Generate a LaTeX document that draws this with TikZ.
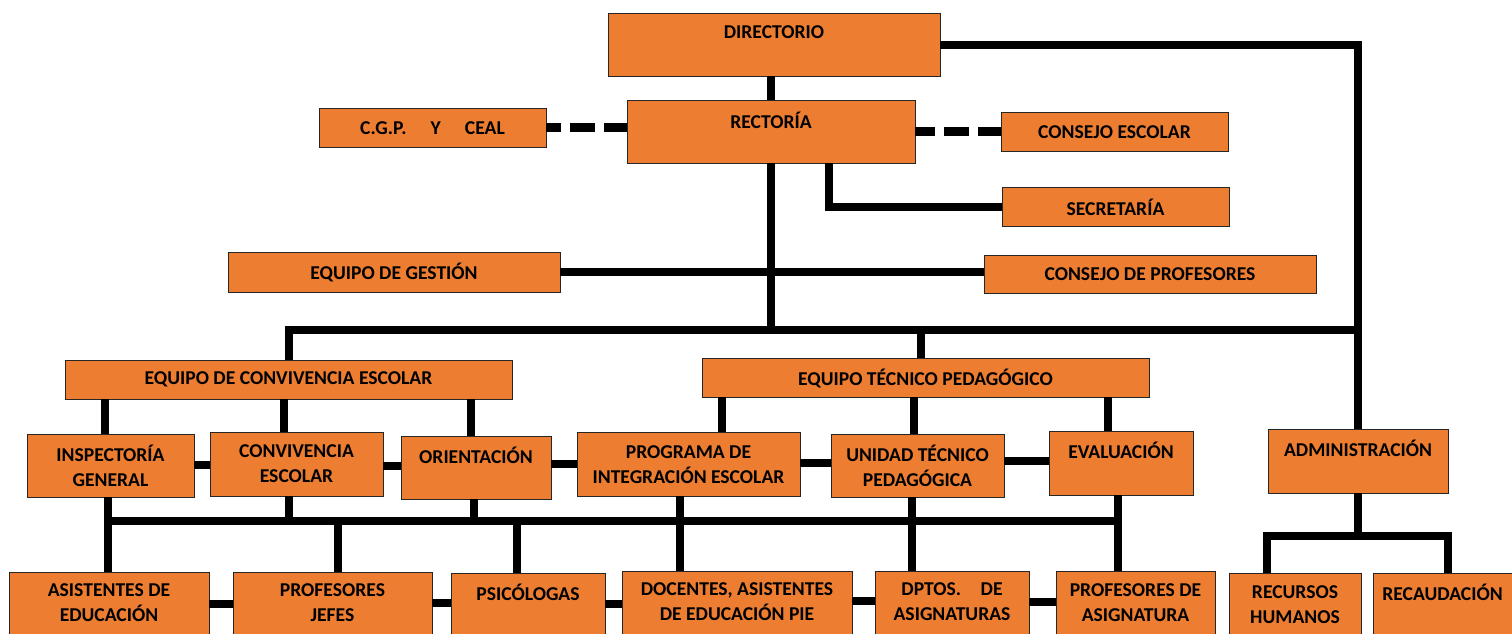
\documentclass[tikz,border=0pt]{standalone}
\usepackage{fontspec}
\setmainfont{Carlito}
\definecolor{org}{HTML}{ED7D31}
\newcommand\obox[7]{%
  \node[box, minimum width={(#4-#2)*1pt}, minimum height={(#5-#3)*1pt}] (#1) at ({(#2+#4)/2},{(#3+#5)/2}) {};
  \node[lab] (#1-t) at ({(#2+#4)/2},#6) {#7};}
\begin{document}
\begin{tikzpicture}[x=1pt,y=-1pt,
  box/.style={draw=black!85, line width=0.9pt, fill=org, inner sep=0pt, outer sep=0pt},
  lab/.style={font=\fontsize{19.6}{25}\selectfont\bfseries, align=center, inner sep=0pt, text=black},
  conn/.style={line width=8pt, black},
  dconn/.style={line width=8.5pt, black, dash pattern=on 25pt off 9pt}]
\useasboundingbox (0,0) rectangle (1512,633);
\clip (0,0) rectangle (1512,633);
% boxes
\obox{dir}{608}{13}{940}{76}{32}{DIRECTORIO}
\obox{rec}{627}{100}{915}{163}{120}{RECTORÍA}
\obox{cgp}{319}{108}{546}{147}{128}{C.G.P.\quad\ Y\quad\ CEAL}
\obox{ces}{1001}{112}{1228}{151}{132}{CONSEJO ESCOLAR}
\obox{sec}{1002}{187}{1229}{226}{207}{SECRETARÍA}
\obox{ges}{228}{252}{560}{292}{272}{EQUIPO DE GESTIÓN}
\obox{cpr}{984}{255}{1316}{293}{274}{CONSEJO DE PROFESORES}
\obox{ecv}{65}{360}{512}{399}{379}{EQUIPO DE CONVIVENCIA ESCOLAR}
\obox{etp}{702}{358}{1149}{397}{378}{EQUIPO TÉCNICO PEDAGÓGICO}
\obox{ins}{27}{434}{194}{497}{465.5}{INSPECTORÍA\\GENERAL}
\obox{cve}{210}{432}{383}{496}{463.5}{CONVIVENCIA\\ESCOLAR}
\obox{ori}{401}{436}{551}{499}{455}{ORIENTACIÓN}
\obox{pie}{577}{432}{800}{496}{464.5}{PROGRAMA DE\\INTEGRACIÓN ESCOLAR}
\obox{utp}{831}{434}{1004}{497}{465.5}{UNIDAD TÉCNICO\\PEDAGÓGICA}
\obox{eva}{1049}{431}{1193}{495}{450}{EVALUACIÓN}
\obox{adm}{1268}{429}{1448}{493}{448}{ADMINISTRACIÓN}
\obox{ase}{9}{572}{209}{660}{603}{ASISTENTES DE\\EDUCACIÓN}
\obox{pjf}{233}{572}{432}{660}{603}{PROFESORES\\JEFES}
\obox{psi}{451}{573}{605}{660}{592}{PSICÓLOGAS}
\obox{doc}{622}{571}{852}{660}{602}{DOCENTES, ASISTENTES\\DE EDUCACIÓN PIE}
\obox{dpt}{875}{571}{1029}{660}{602}{DPTOS.\quad DE\\ASIGNATURAS}
\obox{pas}{1056}{571}{1215}{660}{603}{PROFESORES DE\\ASIGNATURA}
\obox{rrh}{1229}{573}{1361}{660}{604.5}{RECURSOS\\HUMANOS}
\obox{rca}{1373}{573}{1520}{660}{592}{\hspace*{-8pt}RECAUDACIÓN}
% coordinates
\coordinate (hbL) at (289,330);
\coordinate (hbR) at (1358,330);
\coordinate (etT) at (921,330);
\coordinate (sx) at (829,0);
\coordinate (ab) at (0,536);
% connectors
\draw[conn] (rec.north |- dir.south) -- (rec.north);
\draw[conn] (dir.east) -| (adm.north);
\draw[conn] (rec.south) -- (rec.south |- hbL);
\draw[conn] (ecv.north -| hbL) -- (hbL) -- (hbR);
\draw[conn] (etT) -- (etT |- etp.north);
\draw[conn] (rec.south -| sx) |- (sec.west);
\draw[dconn, dash phase=10pt] (cgp.east) -- (rec.west |- cgp.east);
\draw[dconn, dash phase=5pt] (rec.east |- ces.west) -- (ces.west);
\draw[conn] (ges.east) -- (cpr.west |- ges.east);
% convivencia branch
\draw[conn] (ecv.south -| 105,0) -- (105,434);
\draw[conn] (ecv.south -| 284,0) -- (284,432);
\draw[conn] (ecv.south -| 471,0) -- (471,436);
% tecnico branch
\draw[conn] (etp.south -| 722,0) -- (722,432);
\draw[conn] (etp.south -| 914,0) -- (914,434);
\draw[conn] (etp.south -| 1108,0) -- (1108,431);
% second-row links
\draw[conn] (ins.east |- 0,465) -- (cve.west |- 0,465);
\draw[conn] (cve.east |- 0,466) -- (ori.west |- 0,466);
\draw[conn] (ori.east |- 0,464) -- (pie.west |- 0,464);
\draw[conn] (pie.east |- 0,463) -- (utp.west |- 0,463);
\draw[conn] (utp.east |- 0,461) -- (eva.west |- 0,461);
% bus
\draw[conn] (108,521) -- (1122,521);
\draw[conn] (ins.south -| 108,0) -- (108,572);
\draw[conn] (cve.south -| 289,0) -- (289,521);
\draw[conn] (ori.south -| 474,0) -- (474,521);
\draw[conn] (pie.south -| 680,0) -- (680,571);
\draw[conn] (utp.south -| 912,0) -- (912,571);
\draw[conn] (eva.south -| 1118,0) -- (1118,571);
\draw[conn] (338,521) -- (pjf.north -| 338,0);
\draw[conn] (517,521) -- (psi.north -| 517,0);
% bottom-row links
\draw[conn] (ase.east |- 0,604) -- (pjf.west |- 0,604);
\draw[conn] (pjf.east |- 0,603) -- (psi.west |- 0,603);
\draw[conn] (psi.east |- 0,604) -- (doc.west |- 0,604);
\draw[conn] (doc.east |- 0,601) -- (dpt.west |- 0,601);
\draw[conn] (dpt.east |- 0,602) -- (pas.west |- 0,602);
% administration
\draw[conn] (adm.south) -- (adm.south |- ab);
\draw[conn] (rrh.north -| 1267,0) -- (1267,536) -- (1448,536) -- (rca.north -| 1448,0);
\end{tikzpicture}
\end{document}
